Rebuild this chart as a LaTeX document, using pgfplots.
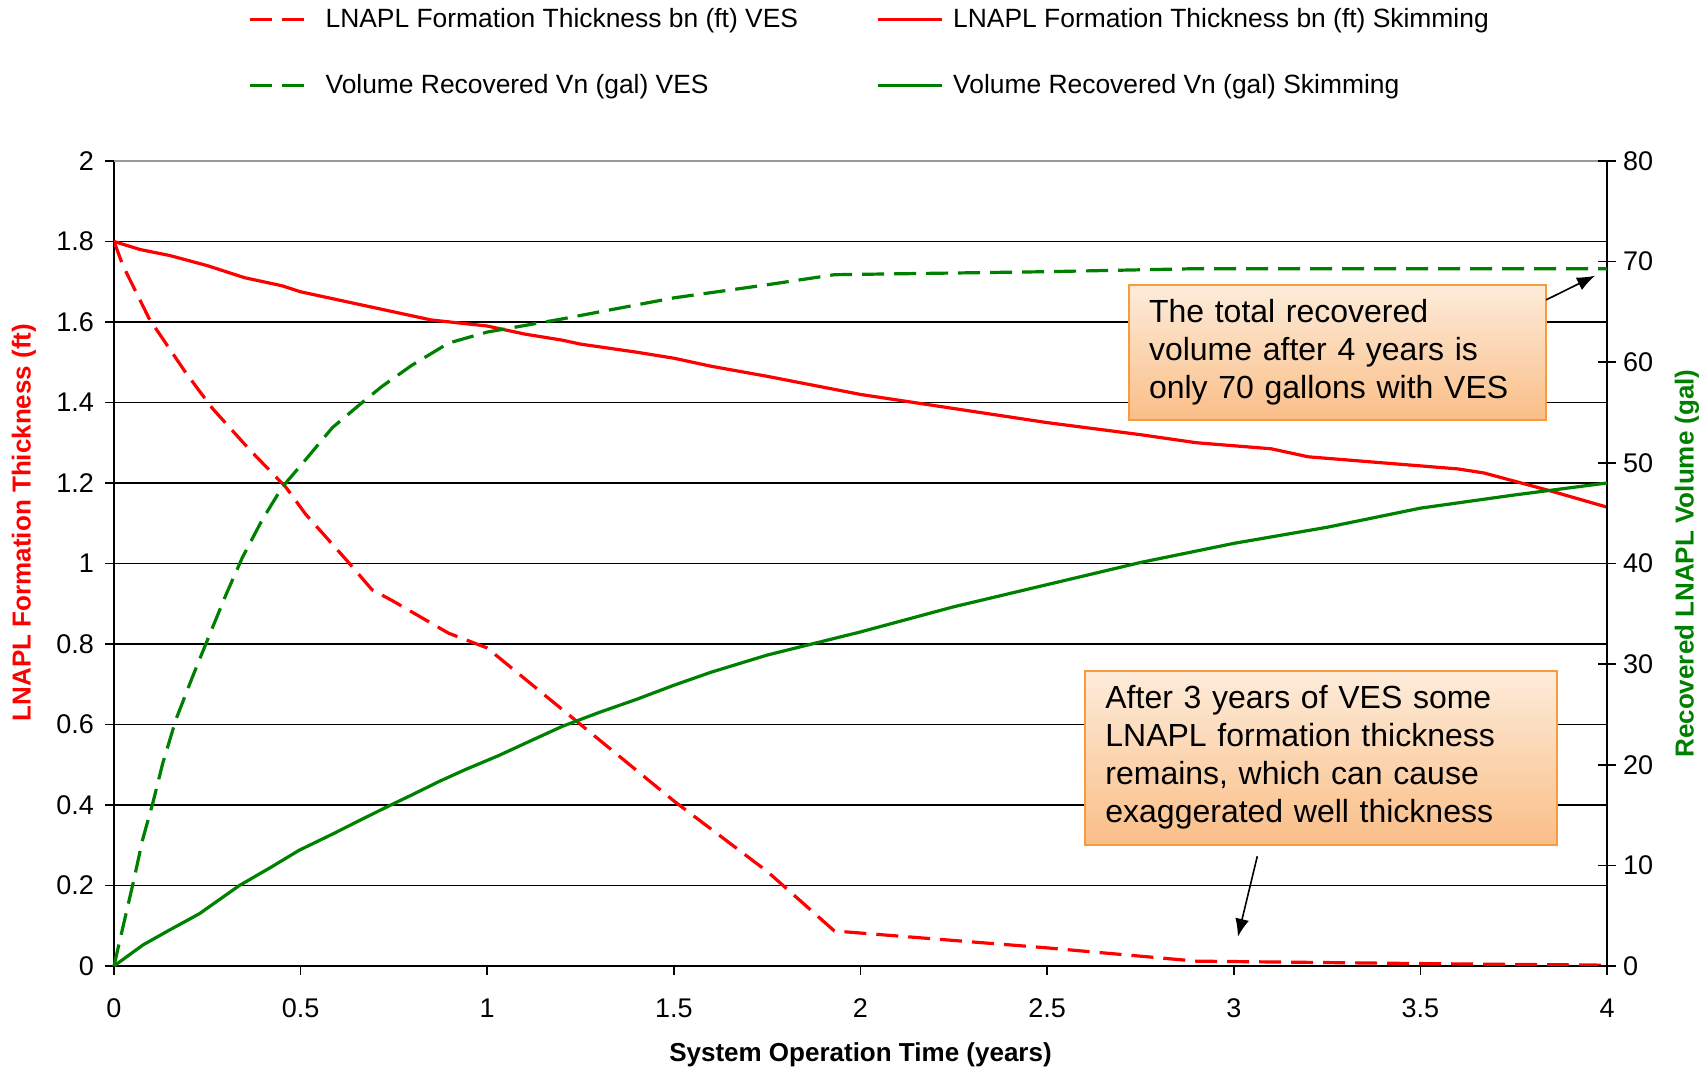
\documentclass[border=0pt]{standalone}
\usepackage{fontspec}
\setmainfont{Liberation Sans}
\usepackage{pgfplots}
\pgfplotsset{compat=1.18}
\usetikzlibrary{arrows.meta}
\definecolor{xlred}{RGB}{255,0,0}
\definecolor{xlgreen}{RGB}{0,128,0}
\definecolor{boxtop}{RGB}{253,236,218}
\definecolor{boxbot}{RGB}{250,190,135}
\definecolor{boxedge}{RGB}{247,155,60}
\begin{document}
\begin{tikzpicture}
\useasboundingbox (-57pt,-51pt) rectangle (796.5pt,483pt);
\begin{axis}[
  at={(0,0)}, anchor=south west,
  width=746.5pt, height=402.5pt, scale only axis,
  xmin=0, xmax=4, ymin=0, ymax=2,
  axis x line*=bottom, axis y line*=left,
  axis line style={black, line width=1pt, -},
  xtick={0,0.5,1,1.5,2,2.5,3,3.5,4},
  ytick={0,0.2,0.4,0.6,0.8,1,1.2,1.4,1.6,1.8},
  extra y ticks={2},
  extra y tick style={major grid style={gray!80, line width=1pt}},
  ymajorgrids,
  major grid style={black, line width=0.8pt},
  tick align=outside,
  major tick length=4.5pt,
  tick style={black, line width=0.8pt},
  /pgf/number format/assume math mode=true,
  tick label style={font=\fontsize{13.5}{16}\selectfont},
  yticklabel style={xshift=-2pt},
  xticklabel style={yshift=-8.4pt},
  xlabel={\textbf{System Operation Time (years)}},
  xlabel style={at={(axis description cs:0.5,0)}, anchor=center, yshift=-44.5pt, font=\fontsize{13}{15}\selectfont},
  ylabel={\textbf{LNAPL Formation Thickness (ft)}},
  ylabel style={at={(axis description cs:-0.0603,0.551)}, anchor=center, rotate=0, font=\fontsize{13}{15}\selectfont, text=xlred},
  legend columns=2,
  legend cell align=left,
  legend image code/.code={\draw[#1] (0pt,0pt) -- (32pt,0pt); \path (35pt,0pt);},
  legend style={at={(axis description cs:0,1)}, anchor=north west, xshift=67pt, yshift=78.5pt,
    draw=none, fill=none, inner sep=0pt, row sep=18pt,
    font=\fontsize{13.2}{15}\selectfont,
    /tikz/every even column/.append style={column sep=37pt}},
]
\addplot[xlred, line width=1.6pt, dash pattern=on 11pt off 5pt] coordinates {
(0,1.80) (0.024,1.74) (0.095,1.607) (0.193,1.473) (0.264,1.385) (0.362,1.284)
(0.46,1.19) (0.513,1.123) (0.629,1.002) (0.691,0.935) (0.745,0.908)
(0.896,0.827) (1.0,0.79) (1.25,0.60) (1.5,0.41) (1.75,0.235) (1.93,0.087)
(2.5,0.045) (2.9,0.012) (3.5,0.006) (4.0,0.002)};
\addlegendentry{LNAPL Formation Thickness bn (ft) VES}
\addplot[xlred, line width=1.6pt] coordinates {
(0,1.80) (0.07,1.78) (0.15,1.765) (0.25,1.74) (0.35,1.71) (0.45,1.69) (0.5,1.675)
(0.6,1.655) (0.75,1.625) (0.85,1.605) (1.0,1.59) (1.1,1.57) (1.2,1.555) (1.25,1.545)
(1.4,1.525) (1.5,1.51) (1.6,1.49) (1.75,1.465) (2.0,1.42) (2.25,1.385) (2.5,1.35)
(2.75,1.32) (2.9,1.30) (3.1,1.285) (3.2,1.265) (3.4,1.25) (3.6,1.235) (3.67,1.225)
(3.85,1.18) (4.0,1.14)};
\addlegendentry{LNAPL Formation Thickness bn (ft) Skimming}
\addlegendimage{xlgreen, line width=1.6pt, dash pattern=on 11pt off 5pt}
\addlegendentry{Volume Recovered Vn (gal) VES}
\addlegendimage{xlgreen, line width=1.6pt}
\addlegendentry{Volume Recovered Vn (gal) Skimming}
\end{axis}
\begin{axis}[
  at={(0,0)}, anchor=south west,
  width=746.5pt, height=402.5pt, scale only axis,
  xmin=0, xmax=4, ymin=0, ymax=80,
  axis x line=none, axis y line*=right,
  axis line style={black, line width=1pt, -},
  ytick={0,10,20,30,40,50,60,70,80},
  tick align=center,
  major tick length=9pt,
  tick style={black, line width=0.8pt},
  /pgf/number format/assume math mode=true,
  tick label style={font=\fontsize{13.5}{16}\selectfont},
  yticklabel style={xshift=0pt},
  ylabel={\textbf{Recovered LNAPL Volume (gal)}},
  ylabel style={at={(axis description cs:1.0535,0.50)}, anchor=center, rotate=0, font=\fontsize{13}{15}\selectfont, text=xlgreen},
  clip=false,
]
\addplot[xlgreen, line width=1.6pt, dash pattern=on 11pt off 5pt] coordinates {
(0,0) (0.016,2.6) (0.051,8.2) (0.077,12.6) (0.104,16.2) (0.131,20.2) (0.166,24.5)
(0.211,28.8) (0.246,32) (0.30,36.9) (0.344,40.6) (0.398,44.4) (0.451,47.6)
(0.513,50.3) (0.585,53.5) (0.665,56) (0.718,57.6) (0.798,59.7) (0.896,61.9)
(1.0,63) (1.2,64.3) (1.5,66.4) (1.75,67.7) (1.93,68.7) (2.5,69) (2.9,69.3) (4.0,69.3)};
\addplot[xlgreen, line width=1.6pt] coordinates {
(0,0) (0.078,2.1) (0.15,3.6) (0.229,5.2) (0.336,8.0) (0.42,9.8) (0.496,11.5)
(0.585,13.1) (0.66,14.5) (0.736,15.9) (0.798,17.0) (0.869,18.3) (0.94,19.5)
(1.03,20.9) (1.1,22.1) (1.2,23.8) (1.3,25.2) (1.4,26.5) (1.5,27.9)
(1.6,29.2) (1.75,30.9) (2.0,33.2) (2.25,35.7) (2.5,37.9) (2.75,40.1) (3.0,42)
(3.25,43.6) (3.5,45.5) (3.75,46.8) (4.0,48)};
\node[draw=boxedge, line width=1pt, top color=boxtop, bottom color=boxbot,
  text width=188.5pt, inner xsep=10pt, inner ysep=0pt, minimum height=67.5pt, align=left,
  font=\fontsize{16}{19}\selectfont] at (axis cs:3.278,60.96)
  {The total recovered\\volume after 4 years is\\only 70 gallons with VES};
\node[draw=boxedge, line width=1pt, top color=boxtop, bottom color=boxbot,
  text width=215.7pt, inner xsep=10pt, inner ysep=0pt, minimum height=87pt, align=left,
  font=\fontsize{16}{19}\selectfont] at (axis cs:3.234,20.7)
  {After 3 years of VES some\\LNAPL formation thickness\\remains, which can cause\\exaggerated well thickness};
\draw[-{Latex[length=9pt,width=7pt]}, black, line width=0.8pt] (axis cs:3.837,66.2) -- (axis cs:3.968,68.6);
\draw[-{Latex[length=9pt,width=7pt]}, black, line width=0.8pt] (axis cs:3.063,10.9) -- (axis cs:3.011,2.9);
\end{axis}
\end{tikzpicture}
\end{document}
